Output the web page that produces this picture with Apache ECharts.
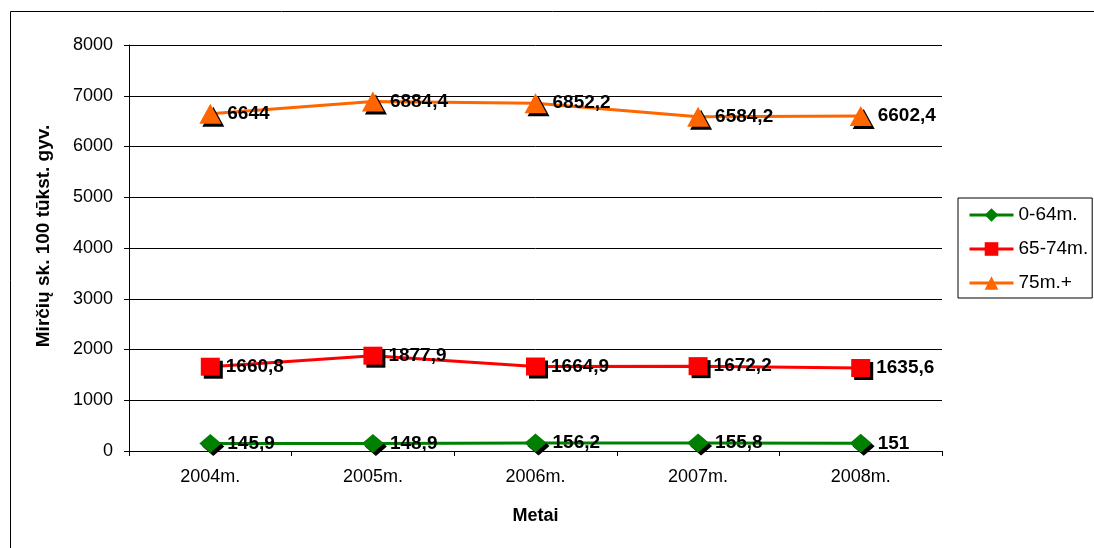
<!DOCTYPE html>
<html>
<head>
<meta charset="utf-8">
<script src="https://cdn.jsdelivr.net/npm/echarts@6/dist/echarts.min.js"></script>
<style>
  html, body { margin: 0; padding: 0; background: #fff; }
  #chart { width: 1094px; height: 548px; }
</style>
</head>
<body>
<div id="chart"></div>
<script>
// Mirtingumas pagal amžiaus grupes, 2004–2008 m.
const years = ['2004m.', '2005m.', '2006m.', '2007m.', '2008m.'];
const group0_64 = [145.9, 148.9, 156.2, 155.8, 151];
const group65_74 = [1660.8, 1877.9, 1664.9, 1672.2, 1635.6];
const group75plus = [6644, 6884.4, 6852.2, 6584.2, 6602.4];
const seriesNames = ['0-64m.', '65-74m.', '75m.+'];
const yTitle = 'Mirčių sk. 100 tūkst. gyv.';
const xTitle = 'Metai';

const FONT = '"Liberation Sans", Arial, sans-serif';

function makeSeries(name, data, color, symbol, size) {
  return {
    name: name,
    type: 'line',
    data: data,
    symbol: symbol,
    symbolSize: size,
    showAllSymbol: true,
    lineStyle: { color: color, width: 3 },
    itemStyle: {
      color: color,
      shadowColor: '#000',
      shadowBlur: 0,
      shadowOffsetX: 3,
      shadowOffsetY: 3
    },
    label: {
      show: true,
      position: 'right',
      distance: 6,
      fontFamily: FONT,
      fontWeight: 'bold',
      fontSize: 19,
      color: '#000',
      formatter: p => String(p.value).replace('.', ',')
    },
    emphasis: { disabled: true },
    animation: false
  };
}

const chart = echarts.init(document.getElementById('chart'), null, { renderer: 'canvas' });
chart.setOption({
  backgroundColor: '#fff',
  animation: false,
  graphic: [
    {
      type: 'rect',
      shape: { x: 10.5, y: 11.5, width: 1200, height: 800 },
      style: { fill: 'none', stroke: '#000', lineWidth: 1 },
      silent: true,
      z: -10
    },
    {
      type: 'text',
      x: 44,
      y: 236,
      rotation: Math.PI / 2,
      style: {
        text: yTitle,
        fontFamily: FONT,
        fontWeight: 'bold',
        fontSize: 19,
        fill: '#000',
        textAlign: 'center',
        textVerticalAlign: 'middle'
      },
      silent: true
    }
  ],
  grid: { left: 129, right: 152, top: 45, bottom: 97 },
  legend: {
    orient: 'vertical',
    left: 958,
    top: 198,
    padding: [7, 4, 5, 10],
    itemGap: 14,
    itemWidth: 44,
    itemHeight: 17,
    borderColor: '#000',
    borderWidth: 1,
    backgroundColor: '#fff',
    textStyle: { fontFamily: FONT, fontSize: 19, lineHeight: 20, color: '#000' },
    lineStyle: { width: 3 },
    itemStyle: { shadowColor: 'rgba(0,0,0,0)', shadowOffsetX: 0, shadowOffsetY: 0 },
    data: seriesNames
  },
  xAxis: {
    type: 'category',
    data: years,
    boundaryGap: true,
    name: xTitle,
    nameLocation: 'middle',
    nameGap: 56,
    nameTextStyle: { fontFamily: FONT, fontWeight: 'bold', fontSize: 18, color: '#000' },
    axisLine: { lineStyle: { color: '#000', width: 1 } },
    axisTick: { show: true, inside: false, length: 5, lineStyle: { color: '#000' } },
    axisLabel: { fontFamily: FONT, fontSize: 18, color: '#000', margin: 17 },
    splitLine: { show: false }
  },
  yAxis: {
    type: 'value',
    min: 0,
    max: 8000,
    interval: 1000,
    axisLine: { show: true, lineStyle: { color: '#000', width: 1 } },
    axisTick: { show: true, inside: false, length: 5, lineStyle: { color: '#000' } },
    axisLabel: {
      fontFamily: FONT, fontSize: 18, color: '#000', margin: 16,
      formatter: v => String(v)
    },
    splitLine: { show: true, lineStyle: { color: '#000', width: 1 } }
  },
  series: [
    makeSeries(seriesNames[0], group0_64, '#008000', 'diamond', [22, 19]),
    makeSeries(seriesNames[1], group65_74, '#FF0000', 'rect', [19, 18]),
    makeSeries(seriesNames[2], group75plus, '#FF6600', 'triangle', [22, 20])
  ]
});
</script>
</body>
</html>
